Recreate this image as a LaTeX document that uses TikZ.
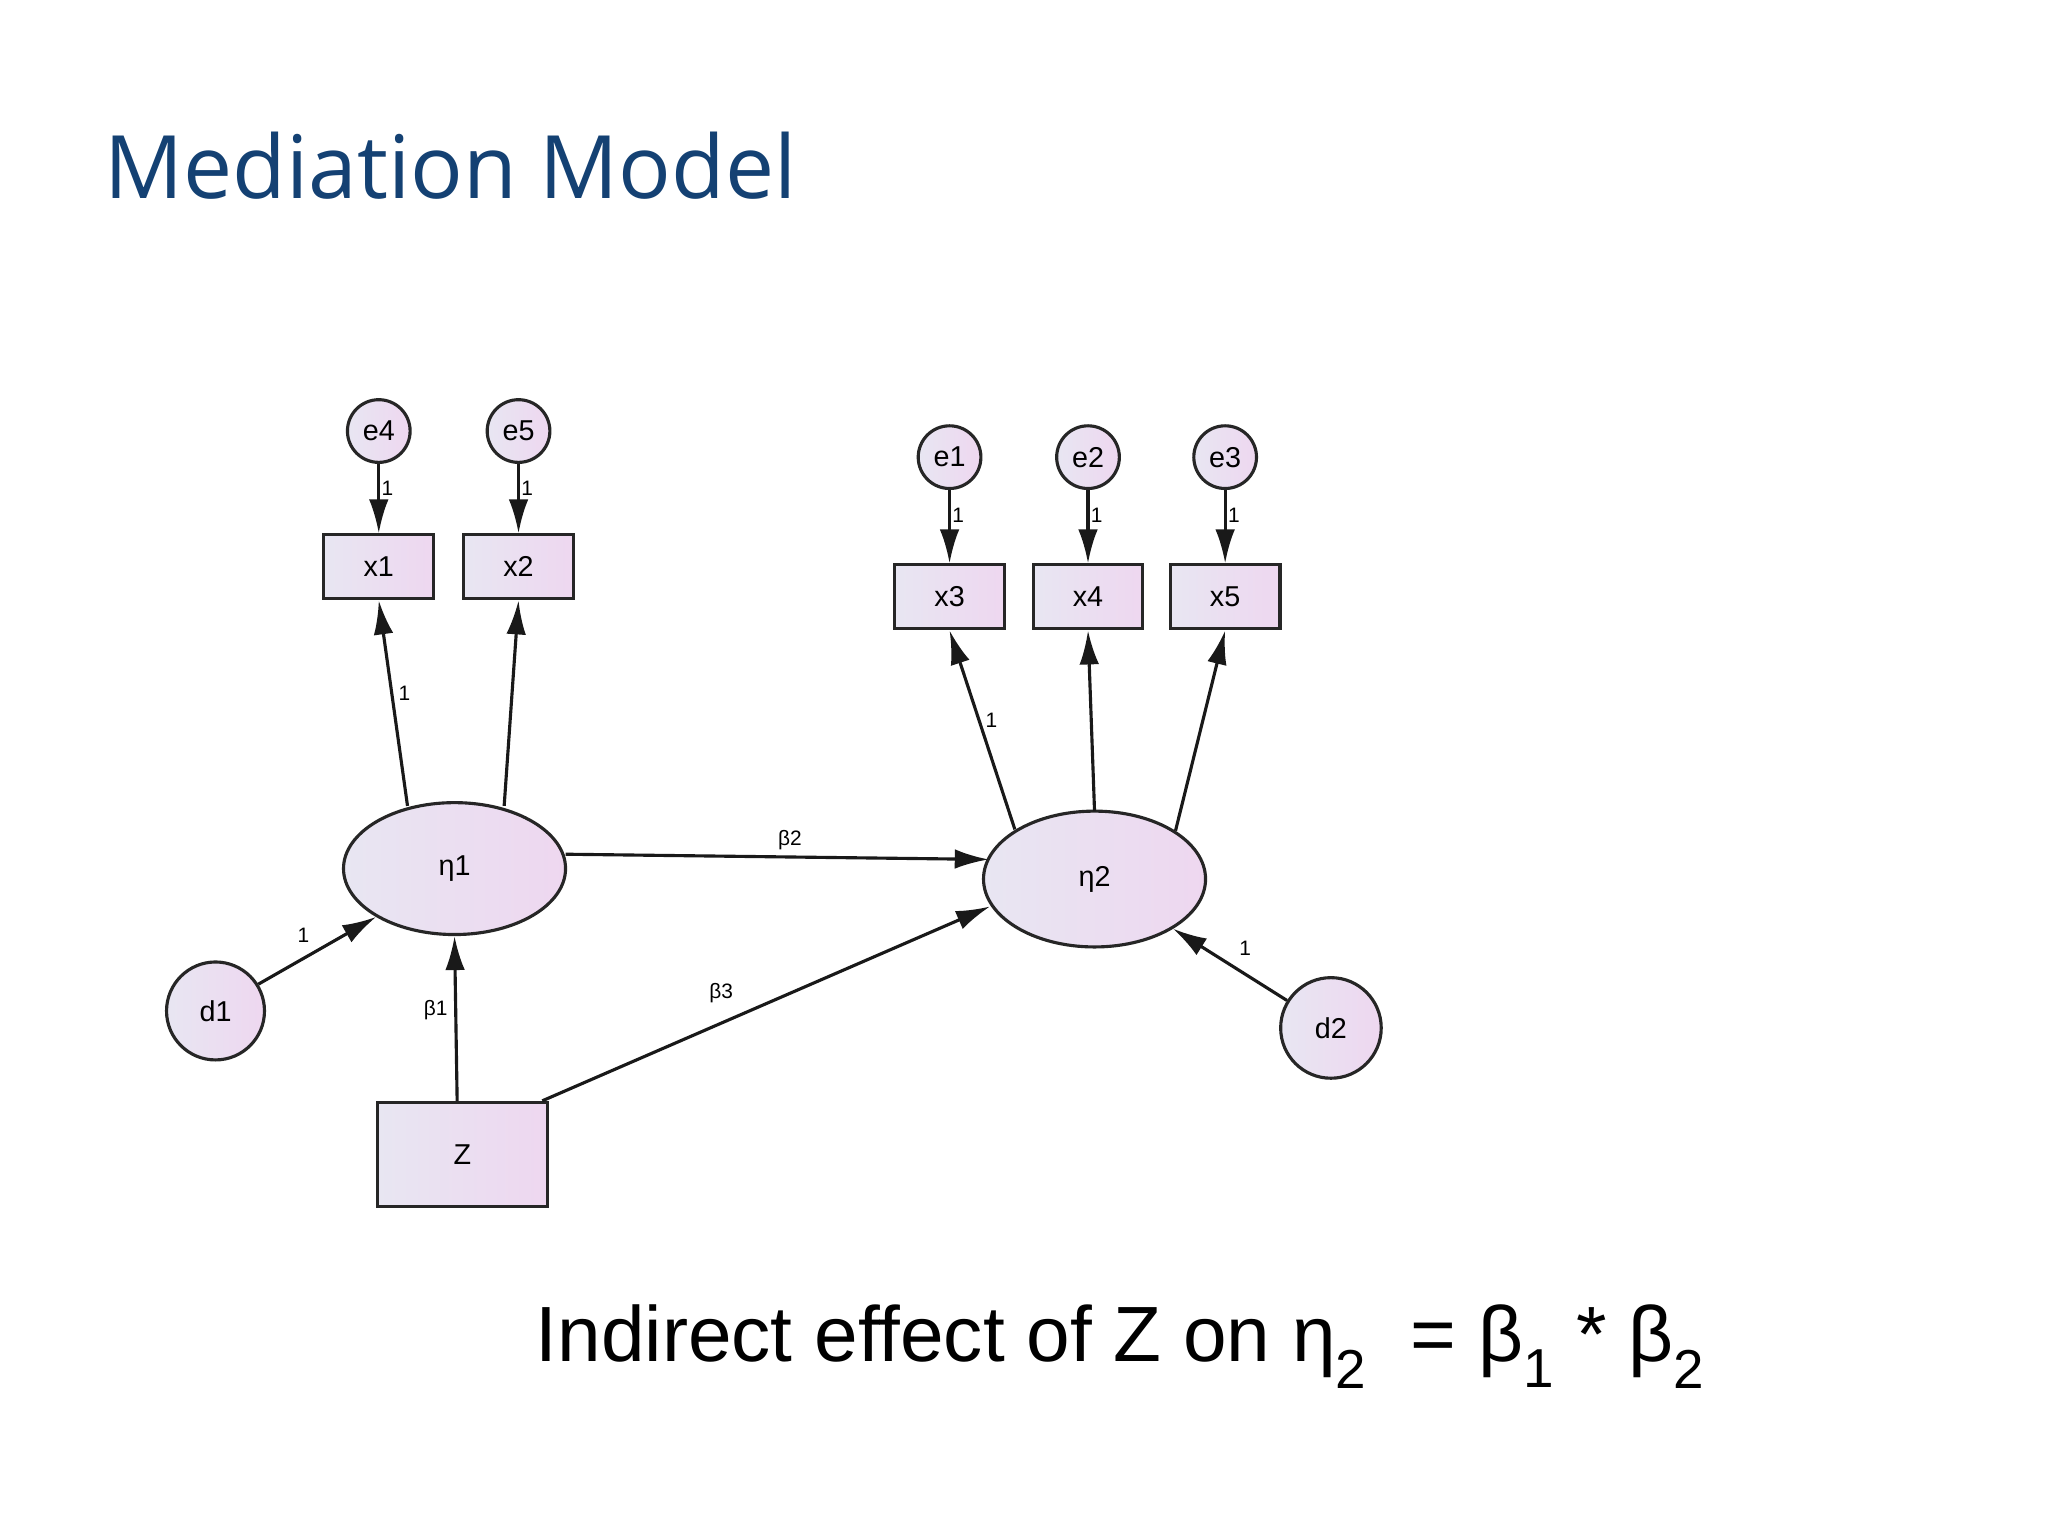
\documentclass[tikz,border=0pt]{standalone}
\usepackage{fontspec}
\setmainfont{Liberation Sans}
\newfontfamily\titlefont{Open Sans}
\usetikzlibrary{shapes.geometric,arrows.meta,calc}
\definecolor{titleblue}{RGB}{20,65,115}
\definecolor{nodel}{RGB}{232,230,242}
\definecolor{noder}{RGB}{238,215,240}
\tikzset{
  obj/.style={draw=black!85,line width=2.4pt,left color=nodel,right color=noder,font=\fontsize{22}{24}\selectfont,inner sep=0pt},
  errc/.style={obj,circle,minimum size=48pt},
  disc/.style={obj,circle,minimum size=75pt},
  obs/.style={obj,rectangle,minimum width=84pt,minimum height=49pt},
  lat/.style={obj,ellipse,minimum width=170pt,minimum height=101pt},
  path/.style={draw=black!90,line width=2.4pt,-{Latex[length=26pt,width=15pt]}},
  lab/.style={font=\fontsize{16}{18}\selectfont,inner sep=1pt}
}
\begin{document}
\begin{tikzpicture}[x=1pt,y=-1pt]
\fill[white] (0,0) rectangle (1568,1176);
\useasboundingbox (0,0) rectangle (1568,1176);
\node[anchor=base west,text=titleblue,font=\titlefont\fontsize{67}{70}\selectfont,inner sep=0pt] (title) at (80,152) {Mediation Model};
% nodes
\node[errc] (e4) at (290,330) {e4};
\node[errc] (e5) at (397,330) {e5};
\node[errc] (e1) at (727,350) {e1};
\node[errc] (e2) at (833,350) {e2};
\node[errc] (e3) at (938,350) {e3};
\node[obs] (x1) at (290,434) {x1};
\node[obs] (x2) at (397,434) {x2};
\node[obs] (x3) at (727,457) {x3};
\node[obs] (x4) at (833,457) {x4};
\node[obs] (x5) at (938,457) {x5};
\node[lat] (eta1) at (348,665) {η1};
\node[lat,minimum height=104pt] (eta2) at (838,673) {η2};
\node[disc] (d1) at (165,774) {d1};
\node[disc,minimum size=77pt] (d2) at (1019,787) {d2};
\node[obj,rectangle,minimum width=130pt,minimum height=80pt] (Z) at (354,884) {Z};
% paths
\foreach \e/\x in {e4/x1,e5/x2,e1/x3,e2/x4,e3/x5}{
  \draw[path] (\e.south) -- node[lab,right,pos=0.35]{1} (\x.north);
}
\draw[path] ($(eta1.center)+(-36,-48)$) -- node[lab,pos=0.55,right=3pt]{1} (x1.south);
\draw[path] ($(eta1.center)+(38,-48)$) -- (x2.south);
\draw[path] ($(eta2.center)+(-61,-38)$) -- node[lab,pos=0.55,right=3pt]{1} (x3.south);
\draw[path] ($(eta2.center)+(0,-52)$) -- (x4.south);
\draw[path] ($(eta2.center)+(62,-37)$) -- (x5.south);
\draw[path] ($(eta1.center)+(85,-11)$) -- node[lab,above=3pt,pos=0.53]{β2} ($(eta2.center)+(-81,-15)$);
\draw[path] ($(Z.north east)+(-5,0)$) -- node[lab,above left=6pt,pos=0.45]{β3} ($(eta2.center)+(-80,21)$);
\draw[path] ($(Z.north)+(-4,0)$) -- node[lab,left=4pt,pos=0.55]{β1} (eta1.south);
\draw[path] (d1.32) -- node[lab,above left=4pt]{1} ($(eta1.center)+(-60,37)$);
\draw[path] (d2.148) -- node[lab,above right=5pt]{1} ($(eta2.center)+(60,38)$);
\node[anchor=base west,font=\fontsize{60}{62}\selectfont,inner sep=0pt] (eq) at (410,1042) {Indirect effect of Z on η$_{\mathrm{2}}$\ \ = β$_{\mathrm{1}}$ * β$_{\mathrm{2}}$};
\end{tikzpicture}
\end{document}
